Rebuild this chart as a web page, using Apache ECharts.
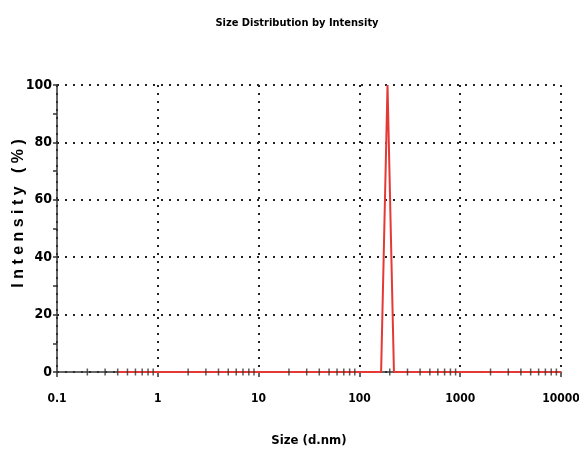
<!DOCTYPE html>
<html>
<head>
<meta charset="utf-8">
<script src="https://cdn.jsdelivr.net/npm/echarts@6/dist/echarts.min.js"></script>
<style>
  html, body { margin: 0; padding: 0; background: #fff; }
  #chart { width: 579px; height: 451px; }
</style>
</head>
<body>
<div id="chart"></div>
<script>
// size bins (d.nm) and intensity (%)
var sizes = [0.4, 164.2, 190.1, 220.2, 10000];
var intensity = [0, 0, 100, 0, 0];
// minor ticks on the log axis: 2..9 per decade
var decades = [0.1, 1, 10, 100, 1000];
var minorSteps = [2, 3, 4, 5, 6, 7, 8, 9];

var font = '"DejaVu Sans Condensed", "Liberation Sans", sans-serif';

var lineData = sizes.map(function (s, i) { return [s, intensity[i]]; });
var minorData = [];
decades.forEach(function (d) {
  minorSteps.forEach(function (m) { minorData.push([d * m, 0]); });
});

var option = {
  animation: false,
  title: {
    text: 'Size Distribution by Intensity',
    left: 292,
    top: 13,
    textAlign: 'center',
    textStyle: { fontFamily: font, fontSize: 11, fontWeight: 'bold', color: '#000' }
  },
  grid: { left: 57, right: 18, top: 85, bottom: 79, outerBoundsMode: 'none', containLabel: false },
  xAxis: {
    type: 'log',
    logBase: 10,
    min: 0.1,
    max: 10000,
    name: 'Size (d.nm)',
    nameLocation: 'middle',
    nameGap: 62,
    nameTextStyle: { fontFamily: font, fontSize: 13, fontWeight: 'bold', color: '#000' },
    axisLine: { lineStyle: { color: '#333', width: 1.5 } },
    axisTick: { show: true, length: 5, lineStyle: { color: '#333', width: 1.5 } },
    axisLabel: {
      margin: 21,
      fontFamily: font,
      fontSize: 12,
      fontWeight: 'bold',
      color: '#000',
      formatter: function (v) { return String(v); }
    },
    splitLine: { show: true, lineStyle: { color: '#222', type: [2, 6], width: 2 } }
  },
  yAxis: {
    type: 'value',
    min: 0,
    max: 100,
    interval: 20,
    name: 'I n t e n s i t y   ( % )',
    nameLocation: 'middle',
    nameGap: 30,
    nameMoveOverlap: false,
    nameTextStyle: {
      fontFamily: '"Liberation Sans", Arial, sans-serif',
      fontSize: 16,
      fontWeight: 'bold',
      color: '#000',
      padding: [0, 0, 0, 30]
    },
    axisLine: { show: true, lineStyle: { color: '#333', width: 1.5 } },
    axisTick: { show: true, length: 4, lineStyle: { color: '#333', width: 1.5 } },
    minorTick: { show: true, splitNumber: 2, length: 4, lineStyle: { color: '#333', width: 1.5 } },
    axisLabel: {
      margin: 5,
      fontFamily: font,
      fontSize: 14,
      fontWeight: 'bold',
      color: '#000'
    },
    splitLine: { show: true, lineStyle: { color: '#222', type: [2, 6], width: 2 } }
  },
  series: [
    {
      type: 'line',
      data: lineData,
      symbol: 'none',
      lineStyle: { color: '#e53935', width: 2 },
      z: 3
    },
    {
      type: 'scatter',
      data: minorData,
      symbol: 'rect',
      symbolSize: [1.5, 7],
      itemStyle: { color: '#333' },
      clip: false,
      silent: true,
      z: 4
    }
  ]
};

var myChart = echarts.init(document.getElementById('chart'));
myChart.setOption(option);
window.onresize = function () {
  myChart.resize();
};
</script>
</body>
</html>
